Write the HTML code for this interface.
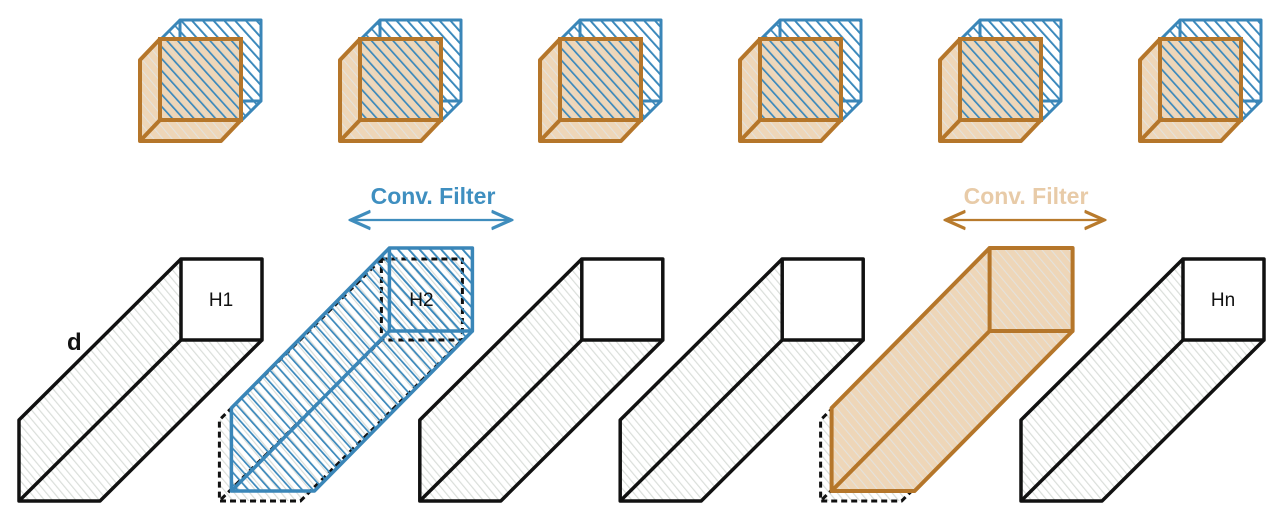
<!DOCTYPE html>
<html><head><meta charset="utf-8"><style>
html,body{margin:0;padding:0;background:#fff;width:1282px;height:522px;overflow:hidden}
svg{display:block}
text{font-family:"Liberation Sans",sans-serif}
</style></head><body>
<svg id="s" width="1282" height="522" viewBox="0 0 1282 522">
<defs>
<pattern id="hg" width="6" height="6" patternUnits="userSpaceOnUse" patternTransform="rotate(-40)"><line x1="0" y1="0" x2="0" y2="6" stroke="#dadeda" stroke-width="2.4"/></pattern>
<pattern id="hb" width="8" height="8" patternUnits="userSpaceOnUse" patternTransform="rotate(-42)"><line x1="0" y1="0" x2="0" y2="8" stroke="#3a88bb" stroke-width="3.4"/></pattern>
<pattern id="ho" width="7" height="7" patternUnits="userSpaceOnUse" patternTransform="rotate(-40)"><rect width="7" height="7" fill="#eed6b8"/><line x1="0" y1="0" x2="0" y2="7" stroke="#e4e2dc" stroke-width="2.2"/></pattern>
<marker id="ab" markerWidth="10" markerHeight="10" refX="8" refY="5" orient="auto-start-reverse"><path d="M0,1 L9,5 L0,9" fill="none" stroke="#3f8dbd" stroke-width="1.5"/></marker>
<marker id="ao" markerWidth="10" markerHeight="10" refX="8" refY="5" orient="auto-start-reverse"><path d="M0,1 L9,5 L0,9" fill="none" stroke="#b87a2c" stroke-width="1.5"/></marker>
</defs>
<g id="g"></g>
<text x="433" y="204" text-anchor="middle" font-size="23" font-weight="bold" fill="#3f8fc0">Conv. Filter</text>
<line x1="353" y1="220" x2="509" y2="220" stroke="#3f8dbd" stroke-width="2.2" marker-start="url(#ab)" marker-end="url(#ab)"/>
<text x="1026" y="204" text-anchor="middle" font-size="23" font-weight="bold" fill="#e8cba8">Conv. Filter</text>
<line x1="948" y1="220" x2="1102" y2="220" stroke="#b87a2c" stroke-width="2.2" marker-start="url(#ao)" marker-end="url(#ao)"/>
<text x="67" y="350" font-size="24" font-weight="bold" fill="#111">d</text>
</svg>
<script>
const labels=["H1","H2","","","","Hn"];
const NS="http://www.w3.org/2000/svg";
const g=document.getElementById('g');
function el(t,a,p){const e=document.createElementNS(NS,t);for(const k in a)e.setAttribute(k,a[k]);(p||g).appendChild(e);return e;}
function prism(x,y,s,dx,dy,col,fill,w,dash,frontFill){
  const P=(a,b)=>a+","+b;
  el('polygon',{points:[P(x,y),P(x+dx,y+dy),P(x+dx,y+s+dy),P(x+s+dx,y+s+dy),P(x+s,y+s),P(x+s,y)].join(' '),fill:fill,stroke:'none'});
  if(frontFill) el('rect',{x:x,y:y,width:s,height:s,fill:frontFill});
  const st={stroke:col,'stroke-width':w,fill:'none','stroke-linejoin':'round'};
  if(dash) st['stroke-dasharray']=dash;
  el('rect',Object.assign({x:x,y:y,width:s,height:s},st));
  el('polyline',Object.assign({points:[P(x,y),P(x+dx,y+dy),P(x+dx,y+s+dy),P(x+s+dx,y+s+dy),P(x+s,y+s)].join(' ')},st));
  el('line',Object.assign({x1:x,y1:y+s,x2:x+dx,y2:y+s+dy},st));
}
for(let i=0;i<6;i++){
  const x=181+200.4*i;
  const cx=160+200*i;
  prism(cx+20,20,81,-20,20,'#3a86b8','url(#hb)',3,null,'url(#hb)');
  prism(cx,39,81,-20,21,'#b5762a','url(#ho)',4,null,null);
  el('rect',{x:cx,y:39,width:81,height:81,fill:'#eed6b8',opacity:0.6});
  el('rect',{x:cx,y:39,width:81,height:81,fill:'url(#hb)'});
  el('rect',{x:cx,y:39,width:81,height:81,fill:'none',stroke:'#b5762a','stroke-width':4});
  if(i===1){
    prism(x,259,81,-162,161,'#111','url(#hg)',3,'6,4',null);
    prism(x+8,248,83,-158,160,'#3a86b8','url(#hb)',3.5,null,'url(#hb)');
  } else if(i===4){
    prism(x,259,81,-162,161,'#111','url(#hg)',3,'6,4',null);
    prism(x+7,248,83,-158,160,'#b5762a','url(#ho)',4,null,'url(#ho)');
  } else {
    prism(x,259,81,-162,161,'#111','url(#hg)',3.5,null,'#fff');
  }
  if(labels[i]){
    const t=el('text',{x:x+40,y:306,'text-anchor':'middle','font-size':19,fill:'#111'});
    t.textContent=labels[i];
    
    
  }
}
</script>
</body></html>
